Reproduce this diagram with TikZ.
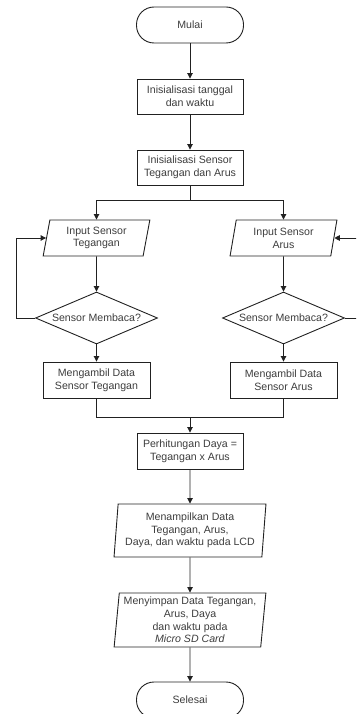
\documentclass[tikz,border=0pt]{standalone}
\usepackage{fontspec}
\setmainfont{Liberation Sans}
\usetikzlibrary{shapes.geometric,arrows.meta}
\definecolor{LineClr}{rgb}{0.13,0.13,0.13}
\definecolor{TextClr}{rgb}{0.24,0.24,0.24}

\begin{document}
\begin{tikzpicture}[x=1pt,y=-1pt,
  every node/.style={font=\fontsize{10.6}{12.7}\selectfont,text=TextClr,draw=LineClr,line width=0.9pt,align=center,inner sep=0pt},
  terminal/.style={rectangle,rounded corners=17.5pt,minimum width=107,minimum height=36},
  process/.style={rectangle,minimum width=106,minimum height=35},
  io/.style={trapezium,trapezium left angle=79,trapezium right angle=101,trapezium stretches=true,minimum width=107,minimum height=36},
  iowide/.style={io,trapezium left angle=84,trapezium right angle=96,minimum width=152,minimum height=53},
  decision/.style={diamond,aspect=2.3,minimum width=122,minimum height=52},
  line/.style={draw=LineClr,line width=0.9pt},
  flow/.style={line,-{Triangle[length=5.5pt,width=5.5pt]}}]
\useasboundingbox (0,0) rectangle (356,714);
\clip (0,0) rectangle (356,714);

\node[terminal] (mulai) at (190,25) {Mulai};
\node[process] (init) at (190,96.5) {Inisialisasi tanggal\\dan waktu};
\node[process] (sensor) at (190,167.5) {Inisialisasi Sensor\\Tegangan dan Arus};

\node[io] (inV) at (96.5,238) {Input Sensor\\Tegangan};
\node[io] (inI) at (283.5,238) {Input Sensor\\Arus};
\node[decision] (bacaV) at (96.5,318) {Sensor Membaca?};
\node[decision] (bacaI) at (283.5,318) {Sensor Membaca?};
\node[process,minimum width=107,minimum height=36] (ambilV) at (96.5,380) {Mengambil Data\\Sensor Tegangan};
\node[process,minimum width=107,minimum height=36] (ambilI) at (283.5,380) {Mengambil Data\\Sensor Arus};

\node[process,minimum height=36] (daya) at (190,451) {Perhitungan Daya =\\Tegangan x Arus};
\node[iowide] (lcd) at (190,530.5) {Menampilkan Data\\Tegangan, Arus,\\Daya, dan waktu pada LCD};
\node[iowide,minimum height=54] (sd) at (190,620) {Menyimpan Data Tegangan,\\Arus, Daya\\dan waktu pada\\\textit{Micro SD Card}};
\node[terminal] (selesai) at (190,700) {Selesai};

\coordinate (split) at (190,200.5);
\coordinate (merge) at (190,417);
\coordinate (loopV) at (16,318);
\coordinate (loopI) at (362,318);

\draw[flow] (mulai) -- (init);
\draw[flow] (init) -- (sensor);
\draw[line] (sensor) -- (split);
\draw[flow] (split) -| (inV);
\draw[flow] (split) -| (inI);
\draw[flow] (inV) -- (bacaV);
\draw[flow] (inI) -- (bacaI);
\draw[flow] (bacaV) -- (loopV) |- (inV);
\draw[flow] (bacaI) -- (loopI) |- (inI);
\draw[flow] (bacaV) -- (ambilV);
\draw[flow] (bacaI) -- (ambilI);
\draw[line] (ambilV) |- (merge);
\draw[line] (ambilI) |- (merge);
\draw[flow] (merge) -- (daya);
\draw[flow] (daya) -- (lcd);
\draw[flow] (lcd) -- (sd);
\draw[flow] (sd) -- (selesai);

\end{tikzpicture}
\end{document}
